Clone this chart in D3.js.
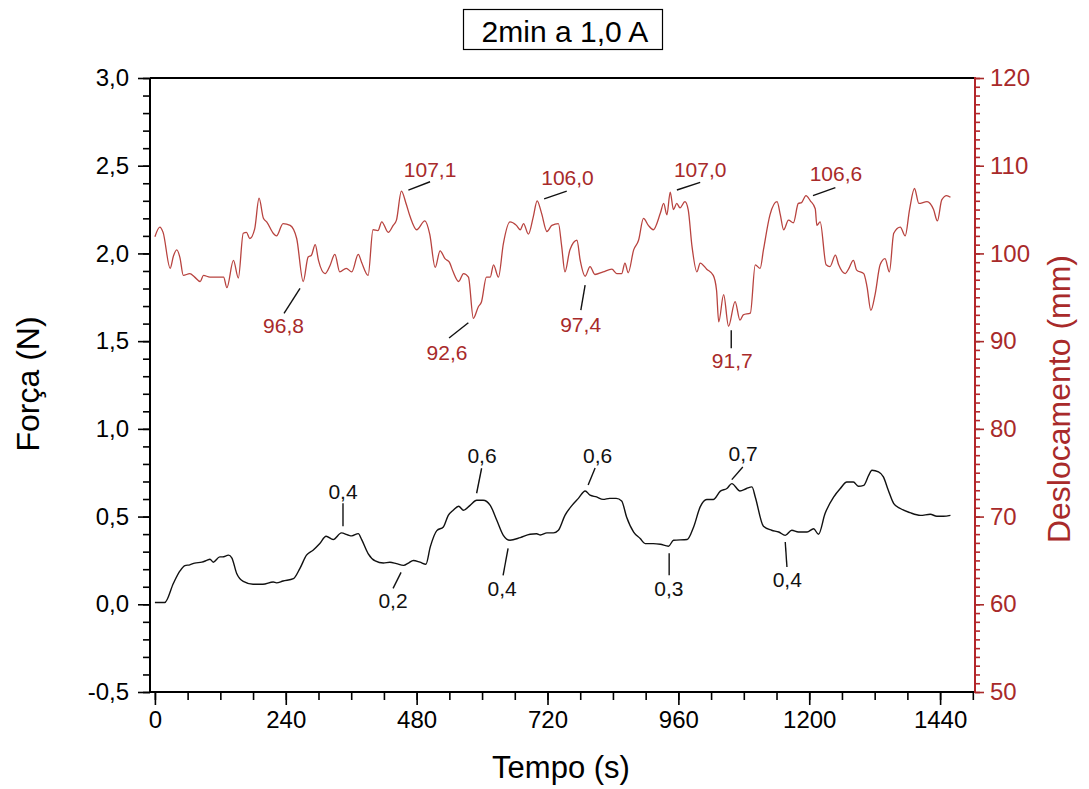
<!DOCTYPE html>
<html>
<head>
<meta charset="utf-8">
<script src="https://cdn.jsdelivr.net/npm/d3@7"></script>
<style>
  html, body { margin: 0; padding: 0; background: #fff; }
  svg { display: block; font-family: Arial, "Liberation Sans", sans-serif; }
</style>
</head>
<body>
<svg id="chart" width="1089" height="789"></svg>
<script>
// Time axis (s) for the force record and the force values (N)
const timeForce = [0, 18, 34, 46, 55, 64, 73, 86, 95, 101, 107, 119, 124, 135, 141, 150, 162, 180, 198, 217, 223, 235, 254, 266, 278, 290, 302, 314, 327, 342, 354, 361, 373, 379, 391, 404, 419, 431, 443, 456, 465, 474, 486, 497, 505, 517, 529, 538, 547, 557, 566, 578, 590, 602, 615, 627, 639, 651, 670, 688, 700, 707, 719, 731, 740, 752, 765, 777, 789, 798, 810, 822, 834, 846, 856, 865, 878, 890, 899, 914, 927, 942, 951, 976, 988, 1000, 1012, 1024, 1037, 1049, 1058, 1073, 1085, 1095, 1101, 1116, 1131, 1144, 1156, 1168, 1180, 1196, 1208, 1217, 1229, 1245, 1257, 1269, 1281, 1290, 1300, 1309, 1315, 1327, 1336, 1345, 1355, 1367, 1385, 1404, 1422, 1434, 1446, 1459];
const force = [0.01, 0.01, 0.12, 0.19, 0.22, 0.225, 0.235, 0.24, 0.25, 0.257, 0.24, 0.27, 0.27, 0.28, 0.265, 0.175, 0.13, 0.114, 0.114, 0.127, 0.122, 0.133, 0.146, 0.205, 0.28, 0.308, 0.345, 0.388, 0.369, 0.407, 0.395, 0.39, 0.403, 0.37, 0.289, 0.247, 0.235, 0.24, 0.232, 0.222, 0.235, 0.25, 0.24, 0.228, 0.327, 0.42, 0.441, 0.507, 0.536, 0.559, 0.536, 0.564, 0.593, 0.593, 0.564, 0.479, 0.393, 0.365, 0.38, 0.399, 0.402, 0.395, 0.407, 0.407, 0.422, 0.507, 0.564, 0.605, 0.646, 0.622, 0.612, 0.598, 0.604, 0.604, 0.589, 0.498, 0.412, 0.375, 0.346, 0.346, 0.342, 0.331, 0.365, 0.369, 0.441, 0.555, 0.597, 0.597, 0.645, 0.66, 0.688, 0.646, 0.66, 0.669, 0.612, 0.445, 0.422, 0.412, 0.393, 0.422, 0.412, 0.412, 0.431, 0.399, 0.517, 0.612, 0.66, 0.697, 0.697, 0.673, 0.678, 0.735, 0.764, 0.755, 0.726, 0.65, 0.574, 0.546, 0.522, 0.507, 0.513, 0.502, 0.502, 0.507];

// Time axis (s) for the displacement record and displacement values (mm)
const timeDisp = [0, 9, 15, 28, 34, 40, 46, 52, 64, 73, 83, 89, 101, 113, 126, 132, 144, 153, 162, 168, 174, 183, 191, 199, 205, 217, 223, 235, 248, 260, 272, 281, 287, 294, 300, 312, 321, 330, 339, 351, 361, 373, 379, 391, 400, 409, 416, 428, 437, 443, 452, 461, 468, 480, 495, 504, 514, 523, 532, 540, 547, 557, 566, 575, 584, 593, 599, 608, 615, 621, 630, 639, 651, 663, 670, 676, 685, 694, 701, 709, 719, 728, 740, 746, 752, 761, 774, 780, 789, 798, 807, 822, 838, 847, 856, 862, 868, 878, 887, 896, 905, 914, 927, 933, 939, 945, 951, 957, 963, 972, 978, 985, 994, 1000, 1012, 1024, 1030, 1034, 1043, 1052, 1064, 1073, 1079, 1092, 1101, 1110, 1116, 1128, 1141, 1147, 1153, 1162, 1171, 1180, 1186, 1194, 1202, 1211, 1214, 1220, 1231, 1238, 1248, 1254, 1266, 1272, 1281, 1287, 1300, 1306, 1313, 1321, 1330, 1339, 1347, 1355, 1367, 1376, 1384, 1393, 1401, 1416, 1428, 1435, 1443, 1452, 1459];
const disp = [101.9, 103.0, 102.4, 98.3, 99.7, 100.4, 99.5, 97.5, 97.7, 97.3, 96.8, 97.5, 97.3, 97.3, 97.3, 96.1, 99.2, 97.2, 102.3, 102.4, 101.7, 102.8, 106.3, 104.0, 103.6, 102.3, 102.0, 103.4, 103.2, 101.7, 96.8, 99.6, 99.8, 101.0, 99.2, 97.7, 98.6, 99.9, 97.9, 98.3, 97.9, 99.9, 99.0, 97.5, 102.7, 102.6, 103.6, 102.4, 103.2, 103.8, 107.1, 105.6, 104.2, 102.7, 103.7, 102.2, 98.4, 100.3, 99.4, 99.0, 97.9, 96.8, 97.7, 97.3, 92.6, 93.9, 94.5, 97.3, 97.3, 98.7, 97.3, 101.1, 103.6, 103.2, 102.7, 103.4, 102.2, 104.2, 106.0, 104.6, 102.5, 103.2, 103.4, 100.8, 97.9, 100.4, 101.5, 99.2, 97.4, 98.5, 97.6, 97.9, 98.2, 97.7, 97.7, 98.9, 97.8, 100.4, 101.5, 104.0, 103.2, 102.7, 104.6, 105.7, 104.4, 107.0, 105.0, 105.7, 105.2, 105.9, 105.0, 100.8, 97.9, 98.9, 98.2, 97.5, 95.8, 92.2, 95.3, 91.7, 94.5, 92.4, 93.0, 93.2, 98.7, 98.3, 100.4, 104.4, 105.9, 104.4, 102.7, 103.8, 103.5, 105.7, 105.8, 106.6, 106.0, 105.1, 103.2, 103.6, 98.7, 98.5, 99.8, 98.7, 97.7, 98.2, 99.2, 98.1, 97.7, 96.2, 93.5, 95.4, 98.7, 99.4, 97.9, 102.3, 103.0, 102.0, 105.0, 107.4, 105.7, 105.9, 105.0, 103.7, 106.1, 106.6, 106.4];

// Annotated instants (s); the label text is taken from the series value there
const forceNoteTimes = [342, 456, 590, 651, 789, 942, 1058, 1156];
const dispNoteTimes = [272, 452, 584, 701, 789, 945, 1052, 1194];

// Axis ticks
const timeTicks = [0, 240, 480, 720, 960, 1200, 1440];
const forceTicks = [-0.5, 0.0, 0.5, 1.0, 1.5, 2.0, 2.5, 3.0];
const dispTicks = [50, 60, 70, 80, 90, 100, 110, 120];

const titleText = "2min a 1,0 A";
const xTitle = "Tempo (s)";
const yLeftTitle = "Força (N)";
const yRightTitle = "Deslocamento (mm)";

// Leader/label placement for each annotation: [near dx, near dy, far dx, far dy, text dx, text baseline dy]
const forceNoteLayout = [
  [1.6, -6.6, 1.6, -29.6, 1.6, -33.6],
  [-2.5, 7, -10.5, 23, -10.5, 43],
  [0, -7, 5, -32, 5.4, -37],
  [-1.8, 8, -6.8, 35, -7.8, 56],
  [3, -6, 10, -23, 12.5, -28],
  [0.6, 7, 0.6, 29, 0.3, 50],
  [0, -4, 11, -16.6, 11.4, -22.6],
  [0, 6.7, 1.7, 31.7, 2, 51.7]
];
const dispNoteLayout = [
  [-3.2, 6.8, -19.2, 31.8, -19.7, 51.5],
  [7, -1, 28.7, -9.4, 28.7, -14],
  [-5, 4.4, -24.3, 19.7, -26.3, 41.7],
  [7, -2, 29.6, -9.6, 30.4, -16.3],
  [0, 8.8, -4.3, 33.8, -4.5, 55.8],
  [6.7, -2, 30, -9.7, 30, -15.3],
  [2.7, 4, 2.7, 22, 3.7, 42],
  [7, 0, 29.4, -8, 30, -14.7]
];

const RED_AXIS = "#b3262a";
const RED_LINE = "#b8433f";
const RED_TEXT = "#a82a2a";

const svg = d3.select("#chart");
const plot = { left: 150, right: 975, top: 78, bottom: 692 };

const x = d3.scaleLinear().domain([-9, 1504]).range([plot.left, plot.right]);
const yF = d3.scaleLinear().domain([-0.5, 3.0]).range([plot.bottom, plot.top]);
const yD = d3.scaleLinear().domain([50, 120]).range([plot.bottom, plot.top]);

const commaFmt = d => d3.format(".1f")(d).replace(".", ",").replace("\u2212", "-");
const intFmt = d => d3.format("d")(d);

// --- Axes ---------------------------------------------------------------
function styleAxis(g, color, fontSize) {
  g.select(".domain").remove();
  g.selectAll("line").attr("stroke", color).attr("stroke-width", 1.6);
  g.selectAll("text").attr("fill", color).attr("font-size", fontSize)
    .attr("font-family", "Arial, 'Liberation Sans', sans-serif");
}

// bottom (time)
const minorTime = d3.range(0, 1501, 60);
svg.append("g").attr("transform", `translate(0,${plot.bottom})`)
  .call(d3.axisBottom(x).tickValues(minorTime).tickSize(8).tickFormat(""))
  .call(g => styleAxis(g, "#000", 0));
svg.append("g").attr("transform", `translate(0,${plot.bottom})`)
  .call(d3.axisBottom(x).tickValues(timeTicks).tickSize(13).tickPadding(6).tickFormat(intFmt))
  .call(g => styleAxis(g, "#000", 24));

// left (force)
const minorForce = d3.range(-5, 31).map(i => i / 10);
svg.append("g").attr("transform", `translate(${plot.left},0)`)
  .call(d3.axisLeft(yF).tickValues(minorForce).tickSize(7).tickFormat(""))
  .call(g => styleAxis(g, "#000", 0));
svg.append("g").attr("transform", `translate(${plot.left},0)`)
  .call(d3.axisLeft(yF).tickValues(forceTicks).tickSize(12).tickPadding(9).tickFormat(commaFmt))
  .call(g => styleAxis(g, "#000", 24));

// right (displacement)
const minorDisp = d3.range(50, 121, 1);
svg.append("g").attr("transform", `translate(${plot.right},0)`)
  .call(d3.axisRight(yD).tickValues(minorDisp).tickSize(5).tickFormat(""))
  .call(g => styleAxis(g, RED_AXIS, 0));
svg.append("g").attr("transform", `translate(${plot.right},0)`)
  .call(d3.axisRight(yD).tickValues(dispTicks).tickSize(9).tickPadding(6).tickFormat(intFmt))
  .call(g => styleAxis(g, RED_TEXT, 24));

// frame
svg.append("line").attr("x1", plot.left).attr("x2", plot.right).attr("y1", plot.top).attr("y2", plot.top)
  .attr("stroke", "#000").attr("stroke-width", 2);
svg.append("line").attr("x1", plot.left).attr("x2", plot.right).attr("y1", plot.bottom).attr("y2", plot.bottom)
  .attr("stroke", "#000").attr("stroke-width", 2);
svg.append("line").attr("x1", plot.left).attr("x2", plot.left).attr("y1", plot.top).attr("y2", plot.bottom + 1)
  .attr("stroke", "#000").attr("stroke-width", 2);
svg.append("line").attr("x1", plot.right).attr("x2", plot.right).attr("y1", plot.top - 1).attr("y2", plot.bottom + 1)
  .attr("stroke", RED_AXIS).attr("stroke-width", 2);

// --- Series -------------------------------------------------------------
const forceData = timeForce.map((t, i) => ({ t, v: force[i] }));
const dispData = timeDisp.map((t, i) => ({ t, v: disp[i] }));

svg.append("path").datum(dispData)
  .attr("fill", "none").attr("stroke", RED_LINE).attr("stroke-width", 1.3)
  .attr("stroke-linejoin", "round")
  .attr("d", d3.line().x(d => x(d.t)).y(d => yD(d.v)).curve(d3.curveMonotoneX));

svg.append("path").datum(forceData)
  .attr("fill", "none").attr("stroke", "#111").attr("stroke-width", 1.4)
  .attr("stroke-linejoin", "round")
  .attr("d", d3.line().x(d => x(d.t)).y(d => yF(d.v)).curve(d3.curveMonotoneX));

// --- Annotations --------------------------------------------------------
function annotate(times, data, yScale, layout, lineColor, textColor) {
  times.forEach((t, i) => {
    const pt = data.find(d => d.t === t);
    const px = x(pt.t), py = yScale(pt.v);
    const [n1x, n1y, f1x, f1y, tx, ty] = layout[i];
    svg.append("line")
      .attr("x1", px + n1x).attr("y1", py + n1y)
      .attr("x2", px + f1x).attr("y2", py + f1y)
      .attr("stroke", lineColor).attr("stroke-width", 1.4);
    svg.append("text")
      .attr("x", px + tx).attr("y", py + ty)
      .attr("text-anchor", "middle")
      .attr("font-size", 21)
      .attr("fill", textColor)
      .text(commaFmt(pt.v));
  });
}
annotate(forceNoteTimes, forceData, yF, forceNoteLayout, "#111", "#111");
annotate(dispNoteTimes, dispData, yD, dispNoteLayout, "#111", RED_TEXT);

// --- Titles -------------------------------------------------------------
svg.append("rect").attr("x", 463.5).attr("y", 9.5).attr("width", 199).attr("height", 40)
  .attr("fill", "#fff").attr("stroke", "#000").attr("stroke-width", 1.2);
svg.append("text").attr("x", 565).attr("y", 42).attr("text-anchor", "middle")
  .attr("font-size", 30).attr("fill", "#000").text(titleText);

svg.append("text").attr("x", 561).attr("y", 778).attr("text-anchor", "middle")
  .attr("font-size", 31).attr("fill", "#000").text(xTitle);

svg.append("text").attr("transform", "translate(39,384) rotate(-90)")
  .attr("text-anchor", "middle").attr("font-size", 32).attr("fill", "#000").text(yLeftTitle);

svg.append("text").attr("transform", "translate(1070,399) rotate(-90)")
  .attr("text-anchor", "middle").attr("font-size", 32).attr("fill", RED_TEXT).text(yRightTitle);
</script>
</body>
</html>
